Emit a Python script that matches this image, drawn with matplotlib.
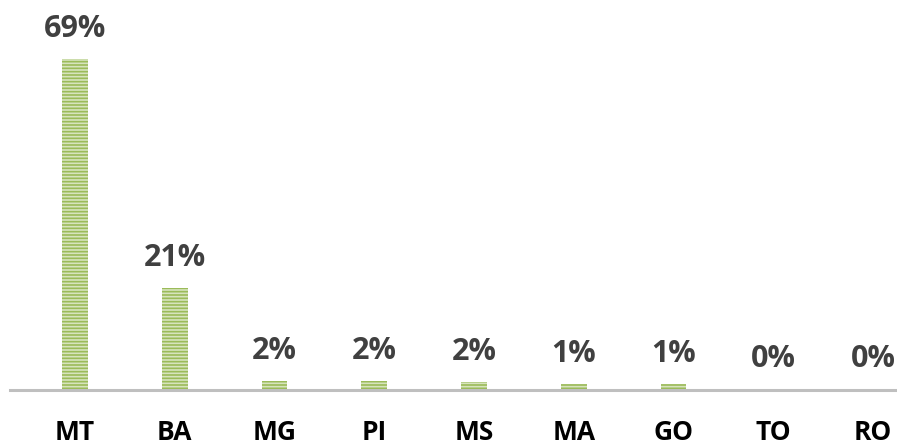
import matplotlib
matplotlib.use("Agg")
import matplotlib.pyplot as plt

categories = ["MT", "BA", "MG", "PI", "MS", "MA", "GO", "TO", "RO"]
values = [69.0, 21.2, 1.8, 1.8, 1.6, 1.2, 1.2, 0.3, 0.2]

W, H = 897, 446
DPI = 100
plt.rcParams['hatch.linewidth'] = 1.2
fig = plt.figure(figsize=(W / DPI, H / DPI), dpi=DPI)
ax = fig.add_axes([10 / W, 56 / H, 887 / W, 390 / H])

x = list(range(len(categories)))
ax.bar(x, values, width=0.26, color="#D7E4BD", edgecolor="#9BBB59",
       linewidth=0, hatch="-----", zorder=2)

ax.set_xlim(-0.652, 8.241)
ax.set_ylim(0, 81.25)
for s in ["top", "right", "left"]:
    ax.spines[s].set_visible(False)
ax.spines["bottom"].set_color("#BFBFBF")
ax.spines["bottom"].set_linewidth(2.2)
ax.spines["bottom"].set_zorder(3)
ax.set_yticks([])
ax.set_xticks([])

px = 72 / DPI
for i, v in zip(x, values):
    ax.annotate(f"{v:.0f}%", (i, v), xytext=(0, 30 * px), textcoords="offset points",
                ha="center", va="center", fontsize=22, fontweight="bold",
                family="Open Sans", color="#404040")
    ax.annotate(categories[i], (i, 0), xycoords=("data", "axes fraction"),
                xytext=(0, -43 * px), textcoords="offset points",
                ha="center", va="center", fontsize=19, fontweight="bold",
                family="Open Sans", color="#000000", annotation_clip=False)

fig.savefig("out.png", dpi=DPI)
